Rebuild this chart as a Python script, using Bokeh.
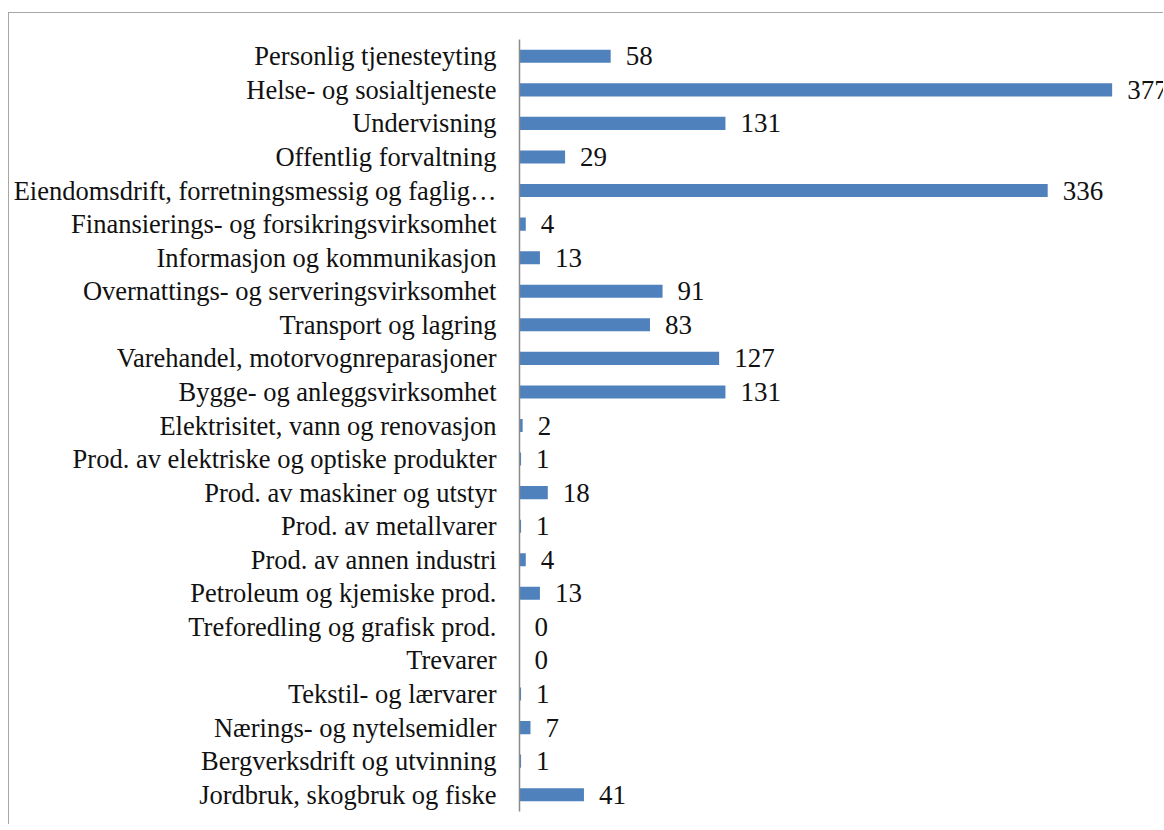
from bokeh.plotting import figure
from bokeh.models import ColumnDataSource, FactorRange, Range1d
from bokeh.embed import file_html
from bokeh.resources import INLINE
from bokeh.core.properties import value

categories = [
    "Personlig tjenesteyting",
    "Helse- og sosialtjeneste",
    "Undervisning",
    "Offentlig forvaltning",
    "Eiendomsdrift, forretningsmessig og faglig…",
    "Finansierings- og forsikringsvirksomhet",
    "Informasjon og kommunikasjon",
    "Overnattings- og serveringsvirksomhet",
    "Transport og lagring",
    "Varehandel, motorvognreparasjoner",
    "Bygge- og anleggsvirksomhet",
    "Elektrisitet, vann og renovasjon",
    "Prod. av elektriske og optiske produkter",
    "Prod. av maskiner og utstyr",
    "Prod. av metallvarer",
    "Prod. av annen industri",
    "Petroleum og kjemiske prod.",
    "Treforedling og grafisk prod.",
    "Trevarer",
    "Tekstil- og lærvarer",
    "Nærings- og nytelsemidler",
    "Bergverksdrift og utvinning",
    "Jordbruk, skogbruk og fiske",
]
values = [58, 377, 131, 29, 336, 4, 13, 91, 83, 127, 131, 2, 1, 18, 1, 4, 13, 0, 0, 1, 7, 1, 41]

FONT = "Liberation Serif"

src = ColumnDataSource(dict(cat=categories, val=values, lab=[str(v) for v in values]))

p = figure(
    width=1155, height=812,
    y_range=FactorRange(factors=list(reversed(categories)), range_padding=0),
    x_range=Range1d(0, 410.3),
    output_backend="svg", toolbar_location=None,
    min_border_left=510, min_border_top=26, min_border_bottom=14, min_border_right=0,
)
p.styles = {
    "margin-left": "8px",
    "margin-top": "12px",
    "border-left": "1px solid #a6a6a6",
    "border-top": "1px solid #a6a6a6",
}
p.outline_line_color = None
p.background_fill_color = "white"
p.border_fill_color = "white"
p.xgrid.visible = False
p.ygrid.visible = False
p.xaxis.visible = False

p.hbar(y="cat", left=0, right="val", height=0.39, source=src,
       fill_color="#4F81BD", line_color=None)
p.text(x="val", y="cat", text="lab", source=src, x_offset=15,
       text_align="left", text_baseline="middle",
       text_font=value(FONT), text_font_size="27px", text_color="#111111")

ya = p.yaxis[0]
ya.axis_line_color = "#8a8a8a"
ya.axis_line_width = 1.5
ya.major_tick_line_color = None
ya.minor_tick_line_color = None
ya.major_tick_out = 0
ya.major_tick_in = 0
ya.major_label_standoff = 23
ya.axis_label_standoff = 0
ya.major_label_text_font = FONT
ya.major_label_text_font_size = "26.5px"
ya.major_label_text_color = "#111111"

open("out.html", "w").write(file_html(p, INLINE))
